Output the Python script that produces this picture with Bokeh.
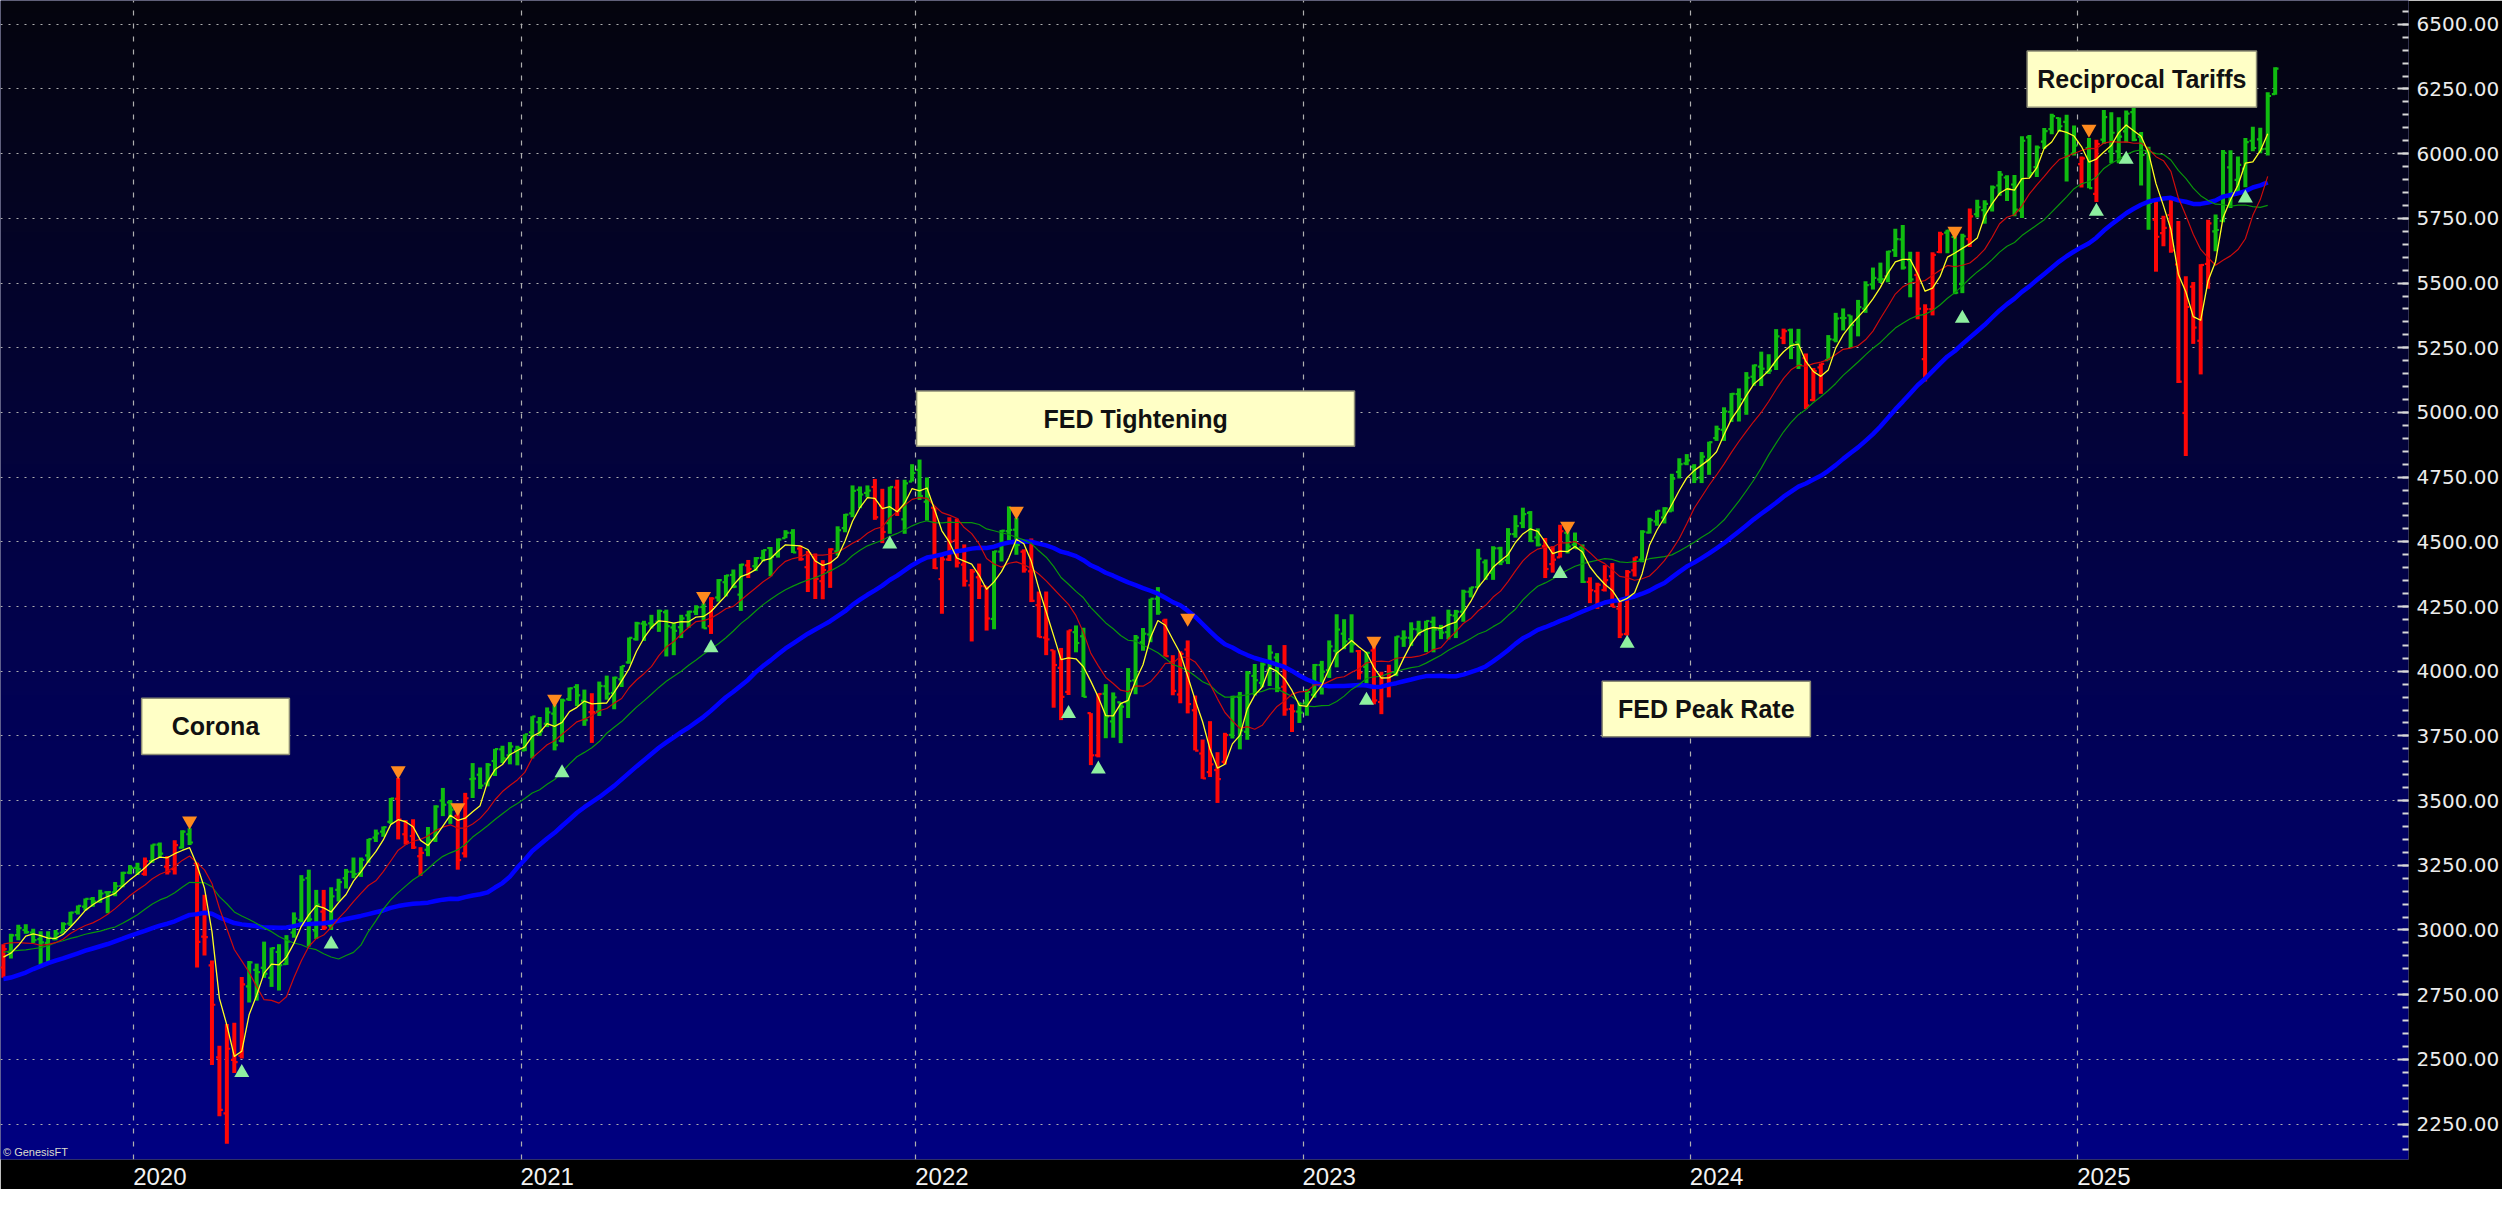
import numpy as np
from bokeh.plotting import figure
from bokeh.models import Range1d, FixedTicker, SingleIntervalTicker, NumeralTickFormatter
from bokeh.core.properties import value
from bokeh.embed import file_html
from bokeh.resources import INLINE

# ---------------- data (weekly bars, index 0 = week ending 3 Jan 2020) ----------------
first_bar = -18

# weekly closes before the first visible bar (only used to warm up the moving averages)
prior_closes = [2760, 2633, 2600, 2417, 2486, 2532, 2596, 2671, 2665, 2707, 2708, 2776, 2793,
                2804, 2743, 2822, 2801, 2834, 2893, 2907, 2905, 2940, 2946, 2881, 2860, 2826,
                2752, 2873, 2887, 2950, 2942, 2990, 3014, 2977, 3026, 2932, 2919, 2889, 2847]

opens = [
    # 2019
    2855, 2915, 2980, 3000, 2990, 2965, 2950, 2965, 2990, 3025, 3070, 3090, 3120, 3110, 3145, 3145, 3170, 3222,
    # 2020
    3240, 3217, 3266, 3330, 3245, 3235, 3318, 3370, 3257, 2974, 2863, 2508, 2291, 2498, 2514, 2782, 2846, 2854,
    2815, 2915, 2868, 2990, 3038, 3200, 2998, 3071, 3018, 3155, 3200, 3225, 3219, 3288, 3357, 3380, 3418, 3507,
    3370, 3363, 3285, 3310, 3350, 3500, 3493, 3441, 3296, 3583, 3600, 3566, 3653, 3698, 3675, 3694,
    # 2021
    3694, 3764, 3803, 3797, 3836, 3731, 3892, 3939, 3886, 3842, 3844, 3942, 3916, 3969, 4034, 4124, 4184, 4185,
    4191, 4228, 4169, 4170, 4216, 4230, 4248, 4174, 4285, 4344, 4372, 4296, 4409, 4406, 4438, 4476, 4450, 4514,
    4535, 4474, 4402, 4440, 4348, 4385, 4463, 4553, 4610, 4701, 4689, 4712, 4640, 4572, 4710, 4587, 4733,
    # 2022
    4778, 4655, 4632, 4356, 4432, 4505, 4412, 4332, 4363, 4328, 4202, 4462, 4541, 4547, 4462, 4386, 4255, 4130,
    4081, 4013, 3920, 4151, 4135, 3838, 3675, 3913, 3806, 3880, 3880, 3965, 4112, 4142, 4280, 4195, 4034, 3910,
    4084, 3849, 3682, 3610, 3618, 3650, 3754, 3901, 3766, 3982, 3955, 4005, 4053, 3940, 3854, 3844,
    # 2023
    3878, 3909, 4024, 4004, 4079, 4145, 4124, 4078, 4017, 4080, 3881, 3942, 3996, 4127, 4129, 4162, 4158, 4191,
    4161, 4151, 4215, 4230, 4307, 4325, 4421, 4380, 4475, 4429, 4530, 4572, 4612, 4517, 4483, 4414, 4440, 4535,
    4489, 4478, 4345, 4309, 4314, 4367, 4242, 4144, 4390, 4431, 4536, 4579, 4594, 4618, 4770, 4803,
    # 2024
    4790, 4748, 4817, 4901, 4933, 5002, 5071, 5049, 5138, 5177, 5156, 5183, 5288, 5318, 5271, 5210, 5048, 5174,
    5202, 5281, 5365, 5375, 5358, 5401, 5495, 5514, 5526, 5627, 5669, 5589, 5531, 5206, 5399, 5620, 5695, 5678,
    5497, 5670, 5766, 5782, 5792, 5877, 5908, 5881, 5780, 6063, 5948, 6047, 6095, 6138, 6123, 6000,
    # 2025
    5960, 6022, 5845, 6054, 6009, 6009, 6086, 6161, 6066, 6008, 5745, 5693, 5763, 5572, 4998, 5486, 5277, 5574,
    5700, 5740, 5947, 5899, 5942, 6050, 6055, 6019, 6230]

highs = [
    2945, 2985, 3020, 3022, 3005, 2995, 2995, 3000, 3030, 3070, 3095, 3122, 3127, 3155, 3150, 3185, 3225, 3250,
    3260, 3280, 3330, 3338, 3286, 3347, 3385, 3393, 3260, 3136, 2882, 2553, 2637, 2641, 2818, 2880, 2870, 2955,
    2932, 2945, 2980, 3068, 3212, 3233, 3155, 3155, 3165, 3198, 3236, 3280, 3280, 3352, 3388, 3400, 3510, 3588,
    3425, 3428, 3320, 3398, 3482, 3549, 3502, 3465, 3530, 3645, 3628, 3645, 3700, 3712, 3726, 3712,
    3756, 3826, 3823, 3860, 3870, 3894, 3937, 3950, 3929, 3915, 3960, 3983, 3979, 4020, 4130, 4191, 4195, 4218,
    4238, 4238, 4187, 4218, 4234, 4255, 4262, 4286, 4356, 4372, 4393, 4415, 4430, 4441, 4469, 4480, 4513, 4545,
    4549, 4486, 4465, 4455, 4429, 4475, 4560, 4608, 4718, 4714, 4718, 4743, 4705, 4713, 4740, 4740, 4800,
    4818, 4749, 4632, 4453, 4595, 4590, 4490, 4395, 4416, 4328, 4465, 4546, 4637, 4593, 4471, 4513, 4308, 4308,
    4081, 4090, 4158, 4177, 4168, 3838, 3914, 3950, 3918, 3880, 4012, 4140, 4167, 4280, 4325, 4203, 4062, 4077,
    4119, 3906, 3736, 3807, 3687, 3762, 3905, 3920, 4001, 4028, 4034, 4101, 4070, 4101, 3872, 3878,
    3931, 4028, 4040, 4119, 4220, 4201, 4220, 4082, 4075, 4104, 3998, 4025, 4135, 4158, 4189, 4195, 4195, 4211,
    4179, 4238, 4237, 4315, 4324, 4473, 4432, 4483, 4481, 4553, 4603, 4632, 4619, 4552, 4515, 4483, 4566, 4540,
    4536, 4490, 4363, 4342, 4410, 4418, 4280, 4391, 4440, 4545, 4593, 4620, 4634, 4763, 4823, 4839,
    4800, 4847, 4887, 4949, 5020, 5075, 5093, 5156, 5185, 5235, 5225, 5322, 5324, 5324, 5323, 5228, 5172, 5189,
    5299, 5385, 5402, 5375, 5435, 5507, 5560, 5579, 5625, 5710, 5724, 5621, 5621, 5418, 5619, 5698, 5706, 5678,
    5691, 5788, 5822, 5820, 5877, 5933, 5917, 5918, 6067, 6072, 6032, 6099, 6154, 6140, 6150, 6109,
    5989, 6061, 6054, 6169, 6160, 6141, 6167, 6187, 6084, 6027, 5816, 5760, 5832, 5740, 5526, 5504, 5573, 5745,
    5765, 6014, 6013, 5989, 6061, 6104, 6100, 6237, 6334]

lows = [
    2815, 2890, 2960, 2985, 2950, 2855, 2875, 2960, 2990, 3015, 3060, 3075, 3090, 3105, 3065, 3130, 3165, 3215,
    3212, 3210, 3260, 3280, 3214, 3214, 3315, 3328, 2855, 2901, 2478, 2280, 2174, 2447, 2503, 2720, 2727, 2815,
    2780, 2766, 2865, 2970, 3025, 2936, 2965, 3000, 3000, 3110, 3160, 3200, 3205, 3260, 3340, 3360, 3410, 3350,
    3330, 3313, 3209, 3285, 3340, 3440, 3410, 3233, 3280, 3510, 3545, 3555, 3595, 3645, 3640, 3636,
    3691, 3663, 3750, 3784, 3694, 3725, 3885, 3865, 3789, 3723, 3827, 3890, 3853, 3939, 4029, 4118, 4117, 4165,
    4152, 4057, 4062, 4128, 4168, 4217, 4165, 4144, 4269, 4289, 4321, 4233, 4360, 4387, 4424, 4367, 4439, 4514,
    4457, 4427, 4306, 4279, 4278, 4322, 4447, 4537, 4595, 4630, 4672, 4585, 4495, 4531, 4600, 4531, 4733,
    4662, 4582, 4395, 4222, 4426, 4401, 4327, 4115, 4279, 4157, 4162, 4424, 4506, 4450, 4381, 4267, 4131, 4062,
    3859, 3811, 3908, 4073, 3900, 3637, 3667, 3741, 3743, 3722, 3819, 3911, 4079, 4112, 4218, 4057, 3907, 3876,
    3837, 3694, 3584, 3591, 3491, 3640, 3740, 3698, 3735, 3906, 3938, 3943, 3919, 3828, 3765, 3800,
    3828, 3898, 3910, 3974, 4015, 4085, 4072, 3968, 3953, 3872, 3834, 3899, 3981, 4094, 4098, 4138, 4074, 4073,
    4124, 4123, 4128, 4191, 4285, 4325, 4353, 4353, 4410, 4414, 4516, 4553, 4499, 4482, 4360, 4381, 4439, 4455,
    4473, 4341, 4263, 4241, 4308, 4248, 4128, 4138, 4366, 4421, 4532, 4562, 4571, 4617, 4745, 4796,
    4727, 4727, 4759, 4890, 4890, 4963, 4965, 4991, 5103, 5102, 5149, 5164, 5264, 5206, 5168, 5013, 5043, 5072,
    5202, 5271, 5317, 5251, 5294, 5385, 5475, 5500, 5503, 5601, 5552, 5445, 5360, 5120, 5375, 5615, 5615, 5457,
    5461, 5639, 5753, 5729, 5777, 5837, 5817, 5758, 5751, 5908, 5910, 6018, 6075, 6085, 5893, 5993,
    5869, 5866, 5813, 6037, 5963, 5963, 6043, 6048, 5877, 5706, 5544, 5642, 5617, 5114, 4832, 5265, 5147, 5478,
    5623, 5735, 5790, 5850, 5870, 6009, 6002, 5993, 6228]

closes = [
    2926, 2979, 3007, 2992, 2961, 2952, 2970, 2986, 3023, 3067, 3093, 3120, 3110, 3141, 3146, 3169, 3221, 3240,
    3235, 3265, 3330, 3295, 3226, 3328, 3380, 3338, 2954, 2972, 2711, 2305, 2541, 2489, 2790, 2875, 2837, 2831,
    2930, 2864, 2955, 3044, 3194, 3041, 3098, 3009, 3130, 3185, 3225, 3216, 3271, 3351, 3373, 3397, 3508, 3427,
    3341, 3319, 3298, 3348, 3477, 3484, 3465, 3270, 3509, 3585, 3558, 3638, 3699, 3663, 3709, 3703,
    3756, 3825, 3768, 3841, 3714, 3887, 3934, 3907, 3811, 3842, 3943, 3913, 3975, 4020, 4129, 4185, 4180, 4181,
    4233, 4174, 4156, 4204, 4230, 4247, 4166, 4281, 4352, 4370, 4327, 4412, 4395, 4437, 4468, 4442, 4509, 4535,
    4459, 4433, 4455, 4357, 4391, 4471, 4545, 4605, 4697, 4683, 4698, 4595, 4538, 4712, 4620, 4726, 4766,
    4677, 4663, 4398, 4432, 4501, 4419, 4349, 4385, 4329, 4204, 4463, 4543, 4546, 4488, 4393, 4272, 4132, 4123,
    4024, 3901, 4158, 4109, 3901, 3675, 3912, 3825, 3899, 3863, 3962, 4130, 4145, 4280, 4228, 4058, 3924, 4067,
    3873, 3693, 3586, 3640, 3583, 3753, 3901, 3771, 3993, 3965, 4026, 4072, 3934, 3852, 3845, 3840,
    3920, 4024, 3998, 4096, 4161, 4115, 4104, 3995, 4071, 3887, 3942, 3996, 4134, 4130, 4163, 4158, 4194, 4161,
    4149, 4217, 4230, 4307, 4324, 4435, 4373, 4475, 4424, 4530, 4561, 4607, 4503, 4489, 4395, 4431, 4541, 4482,
    4475, 4345, 4313, 4334, 4352, 4249, 4142, 4383, 4440, 4539, 4584, 4620, 4629, 4744, 4800, 4815,
    4742, 4829, 4885, 4936, 5004, 5072, 5051, 5134, 5182, 5169, 5162, 5294, 5314, 5264, 5183, 5027, 5160, 5188,
    5283, 5363, 5365, 5338, 5407, 5492, 5520, 5515, 5622, 5670, 5560, 5514, 5401, 5399, 5609, 5689, 5703, 5463,
    5681, 5758, 5793, 5806, 5870, 5919, 5863, 5784, 6050, 5925, 6024, 6087, 6145, 6106, 5991, 6031,
    5982, 5867, 6037, 6141, 6081, 6066, 6155, 6053, 5995, 5810, 5679, 5713, 5626, 5119, 5408, 5328, 5570, 5731,
    5705, 6003, 5848, 5957, 6045, 6022, 6018, 6223, 6329]

# bar paint colours: g = green bar, r = red bar
bar_paint = ("rggggggggggggggggg"
             "grggrrggrrrrrrrggggggggggrgggggggggrrrrggggrrggggggg"
             "gggggggggrgggggggggggggggrggggrggggggrrrrrgggggrrgrgg"
             "ggrrrrrrrrggggrrrrrrrggrrggggggggrrrrrrrrrgggggggrrg"
             "gggggggrgrrrggggggggggggggggggggrrrgggrrrrrrrgggggggg"
             "gggggggggggrggrrrggggggggggggrrrrgggrggggggggggggggr"
             "grgggggggrrrrrrrrgggggggggg")

year_labels = ["2020", "2021", "2022", "2023", "2024", "2025"]
year_first_bar = [0, 52, 105, 157, 209, 261]

sell_signal_bar = [7, 35, 43, 56, 76, 118, 141, 166, 192, 244, 262]
sell_signal_price = [3422, 3616, 3473, 3892, 4289, 4619, 4205, 4116, 4561, 5701, 6095]
buy_signal_bar = [14, 26, 57, 77, 101, 125, 129, 165, 191, 200, 245, 263, 267, 283]
buy_signal_price = [2449, 2945, 3607, 4090, 4491, 3836, 3621, 3887, 4377, 4107, 5363, 5777, 5978, 5828]

event_labels = ["Corona", "FED Tightening", "FED Peak Rate", "Reciprocal Tariffs"]

# ---------------- derived series ----------------
n_bars = len(closes)
idx = np.arange(first_bar, first_bar + n_bars)
o = np.array(opens, float); h = np.array(highs, float)
l = np.array(lows, float); c = np.array(closes, float)
paint = {"g": "#10bc10", "r": "#ff0606"}
colors = [paint[ch] for ch in bar_paint]

all_c = np.array(prior_closes + closes, float)
n_prior = len(prior_closes)
csum = np.concatenate([[0.0], np.cumsum(all_c)])


def sma(n):
    ends = np.arange(n_prior, n_prior + n_bars - 1)   # moving averages stop one bar before the last
    return (csum[ends + 1] - csum[ends + 1 - n]) / n


ma_x = idx[:-1]

# ---------------- figure ----------------
x0, x1 = -18.39, 304.9
y0, y1 = 2113, 6592
p = figure(width=2502, height=1189, x_range=Range1d(x0, x1), y_range=Range1d(y0, y1),
           y_axis_location="right", output_backend="svg", toolbar_location=None,
           min_border=0, min_border_left=0, min_border_top=0, min_border_right=94, min_border_bottom=30,
           background_fill_color="#000040", border_fill_color="black", outline_line_color=None)

# vertical gradient background
ny = 600
img = np.zeros((ny, 2), dtype=np.uint32)
view = img.view(dtype=np.uint8).reshape((ny, 2, 4))
frac = np.linspace(0.0, 1.0, ny)[:, None]
bottom_rgb = np.array([0, 0, 130], float)
top_rgb = np.array([5, 5, 14], float)
rgb = bottom_rgb + (top_rgb - bottom_rgb) * frac
for k in range(3):
    view[:, :, k] = rgb[:, k:k + 1].astype(np.uint8)
view[:, :, 3] = 255
p.image_rgba(image=[img], x=x0, y=y0, dw=x1 - x0, dh=y1 - y0, level="image")

# grids
p.xgrid.ticker = FixedTicker(ticks=[b - 0.5 for b in year_first_bar])
p.xgrid.grid_line_color = "#b0b0b0"
p.xgrid.grid_line_dash = "5 8"
p.xgrid.grid_line_width = 1.2
p.ygrid.grid_line_color = "#b0b0b0"
p.ygrid.grid_line_dash = "2 6"
p.ygrid.grid_line_width = 1.2

# axes
p.yaxis.ticker = SingleIntervalTicker(interval=250, num_minor_ticks=5)
p.yaxis.formatter = NumeralTickFormatter(format="0.00")
p.yaxis.axis_line_color = None
p.yaxis.major_tick_in = 11
p.yaxis.major_tick_out = 0
p.yaxis.minor_tick_in = 6
p.yaxis.minor_tick_out = 0
p.yaxis.major_tick_line_color = "#d8d8d8"
p.yaxis.minor_tick_line_color = "#d8d8d8"
p.yaxis.major_tick_line_width = 2
p.yaxis.minor_tick_line_width = 2
p.yaxis.major_label_text_font = "DejaVu Sans"
p.yaxis.major_label_text_font_size = "20px"
p.yaxis.major_label_text_color = "#ececec"
p.yaxis.major_label_standoff = 8

label_ticks = [b + 3 for b in year_first_bar]
p.xaxis.ticker = FixedTicker(ticks=label_ticks, minor_ticks=[])
p.xaxis.major_label_overrides = {t: s for t, s in zip(label_ticks, year_labels)}
p.xaxis.axis_line_color = None
p.xaxis.major_tick_line_color = None
p.xaxis.minor_tick_line_color = None
p.xaxis.major_label_text_font = "Liberation Sans"
p.xaxis.major_label_text_font_size = "24px"
p.xaxis.major_label_text_color = "#f2f2f2"
p.xaxis.major_label_standoff = 2

# OHLC bars
p.segment(x0=idx, y0=l, x1=idx, y1=h, line_color=colors, line_width=4.0)
p.segment(x0=idx - 0.45, y0=o, x1=idx, y1=o, line_color=colors, line_width=2.2)
p.segment(x0=idx, y0=c, x1=idx + 0.45, y1=c, line_color=colors, line_width=2.2)

# moving averages
p.line(ma_x, sma(40), line_color="#0000ff", line_width=4.5, line_join="round")
p.line(ma_x, sma(20), line_color="#0a960a", line_width=1.2, line_join="round")
p.line(ma_x, sma(10), line_color="#cc0c0c", line_width=1.2, line_join="round")
p.line(ma_x, sma(4), line_color="#ffff20", line_width=1.3, line_join="round")

# signals
p.scatter(x=sell_signal_bar, y=sell_signal_price, marker="inverted_triangle", size=15,
          fill_color="#ff8a1e", line_color=None)
p.scatter(x=buy_signal_bar, y=buy_signal_price, marker="triangle", size=15,
          fill_color="#8ef0a0", line_color=None)

# event boxes
box_left = [0.56, 104.6, 196.65, 253.7]
box_right = [20.4, 163.4, 224.6, 284.5]
box_top = [3896, 5083, 3961, 6397]
box_bottom = [3678, 4869, 3747, 6179]
p.quad(left=box_left, right=box_right, top=box_top, bottom=box_bottom,
       fill_color="#ffffc6", line_color="#8c8c74", line_width=1.5)
p.text(x=[(a + b) / 2 for a, b in zip(box_left, box_right)],
       y=[(a + b) / 2 for a, b in zip(box_top, box_bottom)],
       text=event_labels, text_font=value("Liberation Sans"), text_font_style="bold",
       text_font_size="25px", text_align="center", text_baseline="middle", text_color="#111111")

p.text(x=[-18.05], y=[2143], text=["© GenesisFT"], text_font=value("Liberation Sans"),
       text_font_size="11px", text_align="left", text_baseline="middle", text_color="#dcdccc")

open("out.html", "w").write(file_html(p, INLINE))
